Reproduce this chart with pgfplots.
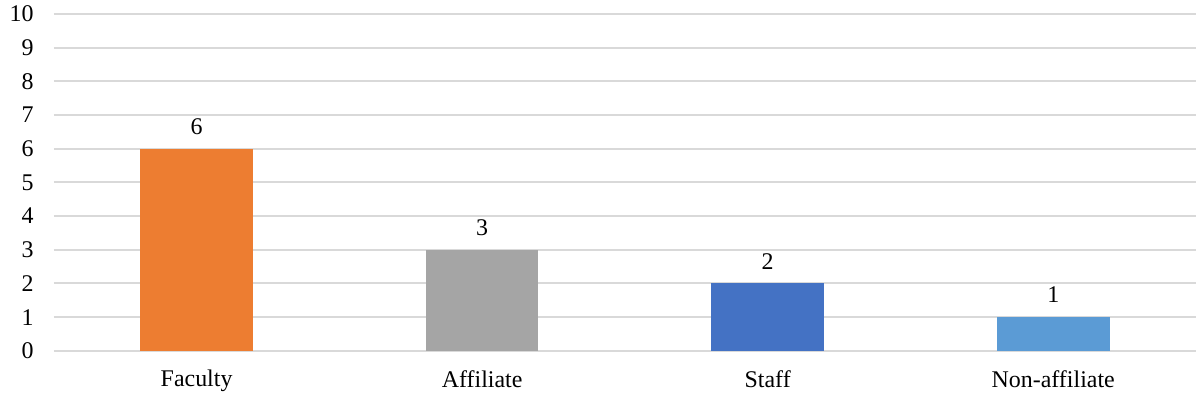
\documentclass[border=0pt]{standalone}
\usepackage{pgfplots}
\pgfplotsset{compat=1.18}
\usepackage{fontspec}
\setmainfont{Liberation Serif}

\definecolor{cFaculty}{HTML}{ED7D31}
\definecolor{cAffiliate}{HTML}{A5A5A5}
\definecolor{cStaff}{HTML}{4472C4}
\definecolor{cNonAff}{HTML}{5B9BD5}
\definecolor{gridgray}{HTML}{D9D9D9}

\begin{document}
\fontsize{12bp}{14bp}\selectfont
\begin{tikzpicture}
\begin{axis}[
  scale only axis,
  width=573bp, height=169bp,
  xmin=-0.5, xmax=3.5,
  ymin=0, ymax=10,
  ytick={0,1,...,10},
  xtick={0,1,2,3},
  xticklabels={Faculty,Affiliate,Staff,Non-affiliate},
  /pgf/number format/assume math mode=true,
  major tick length=0pt,
  axis y line*=left,
  axis x line*=bottom,
  y axis line style={draw=none},
  x axis line style={draw=gridgray, line width=1bp},
  ymajorgrids,
  grid style={draw=gridgray, line width=1bp},
  tick label style={font=\fontsize{12bp}{14bp}\selectfont, inner sep=0pt},
  yticklabel style={xshift=-10bp},
  xticklabel style={yshift=-9.5bp},
  ybar, bar width=56.5bp, bar shift=0pt,
  nodes near coords,
  every node near coord/.append style={font=\fontsize{12bp}{14bp}\selectfont, yshift=3bp, text=black},
  clip=false,
]
\addplot[fill=cFaculty, draw=none]  coordinates {(0,6)};
\addplot[fill=cAffiliate, draw=none] coordinates {(1,3)};
\addplot[fill=cStaff, draw=none]    coordinates {(2,2)};
\addplot[fill=cNonAff, draw=none]   coordinates {(3,1)};
\path[use as bounding box] (rel axis cs:-0.04712,-0.14201) rectangle (rel axis cs:0.99738,1.04142);
\end{axis}
\end{tikzpicture}
\end{document}
